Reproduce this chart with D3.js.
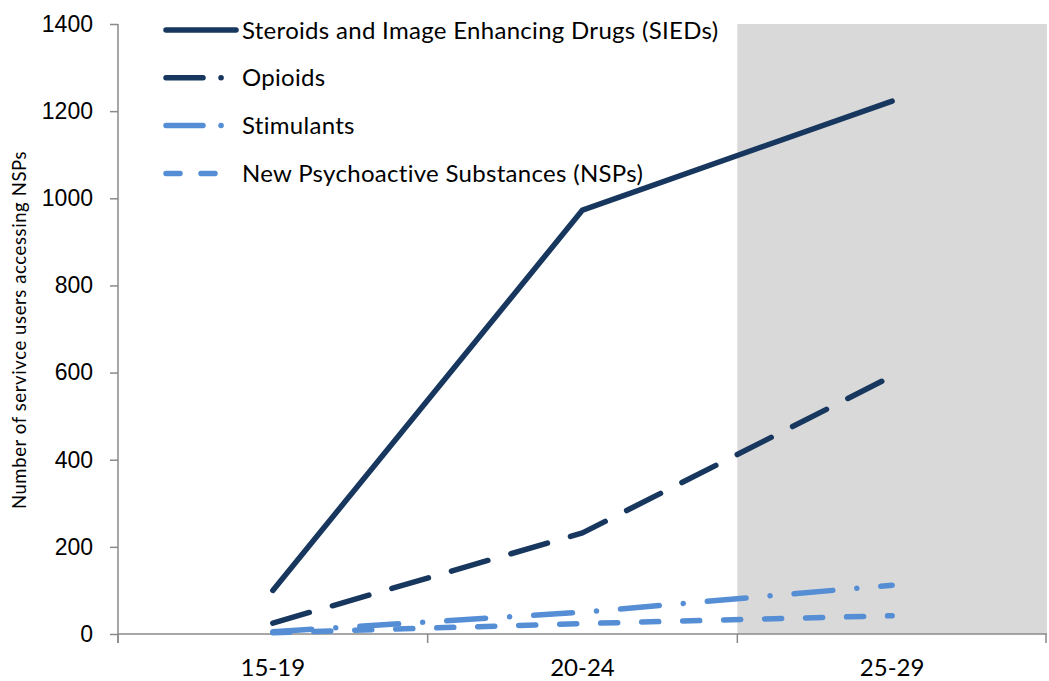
<!DOCTYPE html>
<html>
<head>
<meta charset="utf-8">
<script src="https://cdn.jsdelivr.net/npm/d3@7"></script>
<style>
  html, body { margin: 0; padding: 0; background: #fff; }
  svg { display: block; font-family: Lato, "Open Sans", sans-serif; }
  .y .domain { display: none; }
  .y line { stroke: #8a8a8a; stroke-width: 1.5; }
  .y text { font-size: 23px; fill: #000; }
</style>
</head>
<body>
<div id="graphicContainer"></div>
<script>
var ageGroups = ["15-19", "20-24", "25-29"]
var seriesNames = [
  "Steroids and Image Enhancing Drugs (SIEDs)",
  "Opioids",
  "Stimulants",
  "New Psychoactive Substances (NSPs)"
]
var sieds = [100, 973, 1223]
var opioids = [25, 232, 592]
var stimulants = [5, 50, 112]
var nsps = [3, 24, 42]
var yTicks = [0, 200, 400, 600, 800, 1000, 1200, 1400]
var shadedGroup = "25-29"
var yTitle = "Number of servivce users accessing NSPs"

var dark = "#17375e"
var light = "#558ed5"

var series = [
  { name: seriesNames[0], values: sieds, color: dark, dash: null, legendDash: null },
  { name: seriesNames[1], values: opioids, color: dark, dash: "38 24", legendDash: "37 18 0.1 30" },
  { name: seriesNames[2], values: stimulants, color: light, dash: "39 24 0.1 24", legendDash: "37 18 0.1 30" },
  { name: seriesNames[3], values: nsps, color: light, dash: "17 24", legendDash: "14 21" }
]

var width = 1049
var height = 681
var margin = { top: 24, right: 2, bottom: 47, left: 118 }

var svg = d3.select("#graphicContainer").append("svg")
  .attr("width", width)
  .attr("height", height)

var x = d3.scaleBand()
  .domain(ageGroups)
  .range([margin.left, width - margin.right])
  .paddingInner(0)
  .paddingOuter(0)

var y = d3.scaleLinear()
  .domain([0, 1400])
  .range([height - margin.bottom, margin.top])

// grey highlight on the last age group
svg.append("rect")
  .attr("x", x(shadedGroup))
  .attr("y", y(1400))
  .attr("width", x.bandwidth())
  .attr("height", y(0) - y(1400))
  .attr("fill", "#d9d9d9")

// y axis
var yAxis = d3.axisLeft(y).tickValues(yTicks).tickSize(8).tickPadding(17).tickFormat(d => d)
svg.append("g")
  .attr("class", "y")
  .attr("transform", "translate(" + margin.left + ",0)")
  .call(yAxis)

svg.append("line")
  .attr("x1", margin.left).attr("x2", margin.left)
  .attr("y1", y(1400)).attr("y2", y(0) + 9)
  .attr("stroke", "#8a8a8a").attr("stroke-width", 1.5)

// x axis, ticks on band edges
svg.append("line")
  .attr("x1", x.range()[0]).attr("x2", x.range()[1])
  .attr("y1", y(0)).attr("y2", y(0))
  .attr("stroke", "#8a8a8a").attr("stroke-width", 1.5)

var edges = ageGroups.map(d => x(d)).concat([x.range()[1] - 1])
svg.selectAll(".xtick").data(edges).enter().append("line")
  .attr("class", "xtick")
  .attr("x1", d => d).attr("x2", d => d)
  .attr("y1", y(0)).attr("y2", y(0) + 9)
  .attr("stroke", "#8a8a8a").attr("stroke-width", 1.5)

svg.selectAll(".xlabel").data(ageGroups).enter().append("text")
  .attr("class", "xlabel")
  .attr("x", d => x(d) + x.bandwidth() / 2)
  .attr("y", 676)
  .attr("text-anchor", "middle")
  .style("font-size", "24px")
  .text(d => d)

svg.append("text")
  .attr("transform", "translate(26," + 330 + ") rotate(-90)")
  .attr("text-anchor", "middle")
  .style("font-size", "18.5px")
  .style("letter-spacing", "0.6px")
  .text(yTitle)

// lines
var line = d3.line()
  .x((d, i) => x(ageGroups[i]) + x.bandwidth() / 2)
  .y(d => y(d))

svg.selectAll(".series").data(series).enter().append("path")
  .attr("class", "series")
  .attr("d", d => line(d.values))
  .attr("fill", "none")
  .attr("stroke", d => d.color)
  .attr("stroke-width", 5.5)
  .attr("stroke-linecap", "round")
  .attr("stroke-linejoin", "round")
  .attr("stroke-dasharray", d => d.dash)

// legend
var legend = svg.selectAll(".legend").data(series).enter().append("g")
  .attr("class", "legend")
  .attr("transform", (d, i) => "translate(0," + (30 + i * 47.8) + ")")

legend.append("line")
  .attr("x1", 166).attr("x2", 236)
  .attr("y1", 0).attr("y2", 0)
  .attr("stroke", d => d.color)
  .attr("stroke-width", 5.5)
  .attr("stroke-linecap", "round")
  .attr("stroke-dasharray", d => d.legendDash)

legend.append("text")
  .attr("x", 242)
  .attr("y", 8.5)
  .style("font-size", "24px")
  .style("letter-spacing", "0.3px")
  .text(d => d.name)
</script>
</body>
</html>
